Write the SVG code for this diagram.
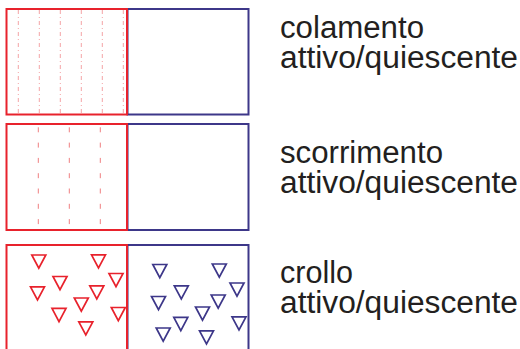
<svg xmlns="http://www.w3.org/2000/svg" width="520" height="349" viewBox="0 0 520 349">
<style>
.red{fill:none;stroke:#e8222c;stroke-width:2}
.blue{fill:none;stroke:#3d3789;stroke-width:2}
.d1{stroke:#f4a3a6;stroke-width:1;stroke-dasharray:4 3 1 3}
.d2{stroke:#ef7f80;stroke-width:1;stroke-dasharray:5 10.3}
.tr{fill:none;stroke:#e8222c;stroke-width:1.7}
.tb{fill:none;stroke:#3d3789;stroke-width:1.7}
.lbl{font-family:"Liberation Sans",Arial,sans-serif;font-size:31px;fill:#231f20}
</style>
<defs>
<path id="tri" d="M-7,0 H7 L0,13.2 Z"/>
</defs>
<rect width="520" height="349" fill="#ffffff"/>
<g id="colamento">
<g class="d1">
<line x1="18.3" y1="10" x2="18.3" y2="114"/>
<line x1="39.3" y1="10" x2="39.3" y2="114"/>
<line x1="60.3" y1="10" x2="60.3" y2="114"/>
<line x1="81.3" y1="10" x2="81.3" y2="114"/>
<line x1="102.3" y1="10" x2="102.3" y2="114"/>
<line x1="123.3" y1="10" x2="123.3" y2="114"/>
</g>
<rect class="blue" x="127.5" y="9" width="121" height="105.5"/>
<rect class="red" x="6.5" y="9" width="120.5" height="105.5"/>
<text class="lbl" x="280" y="37.7" textLength="144" lengthAdjust="spacingAndGlyphs">colamento</text>
<text class="lbl" x="280" y="68.3" textLength="238" lengthAdjust="spacingAndGlyphs">attivo/quiescente</text>
</g>
<g id="scorrimento">
<g class="d2">
<line x1="38.3" y1="127.3" x2="38.3" y2="229"/>
<line x1="69.3" y1="127.3" x2="69.3" y2="229"/>
<line x1="100.3" y1="127.3" x2="100.3" y2="229"/>
</g>
<rect class="blue" x="127.5" y="124" width="121" height="106"/>
<rect class="red" x="6.5" y="124" width="120.5" height="106"/>
<text class="lbl" x="280" y="162.7" textLength="163" lengthAdjust="spacingAndGlyphs">scorrimento</text>
<text class="lbl" x="280" y="193.3" textLength="238" lengthAdjust="spacingAndGlyphs">attivo/quiescente</text>
</g>
<g id="crollo">
<rect class="blue" x="127.5" y="245" width="121" height="106"/>
<rect class="red" x="6.5" y="245" width="120.5" height="106"/>
<g class="tr">
<use href="#tri" x="38.8" y="255"/>
<use href="#tri" x="98.5" y="254.8"/>
<use href="#tri" x="60" y="276.5"/>
<use href="#tri" x="116" y="273.5"/>
<use href="#tri" x="37.5" y="286.8"/>
<use href="#tri" x="96.8" y="285.8"/>
<use href="#tri" x="81.3" y="298"/>
<use href="#tri" x="59" y="308.4"/>
<use href="#tri" x="118.3" y="307.5"/>
<use href="#tri" x="85.8" y="321.8"/>
</g>
<g class="tb">
<use href="#tri" x="159.8" y="264.5"/>
<use href="#tri" x="219.3" y="264"/>
<use href="#tri" x="181.3" y="285.8"/>
<use href="#tri" x="237" y="283"/>
<use href="#tri" x="158.5" y="296.5"/>
<use href="#tri" x="218.2" y="295"/>
<use href="#tri" x="202.5" y="307"/>
<use href="#tri" x="180.8" y="317.4"/>
<use href="#tri" x="239" y="316.8"/>
<use href="#tri" x="163.2" y="328"/>
<use href="#tri" x="206.5" y="330.8"/>
</g>
<text class="lbl" x="280" y="282.7" textLength="73" lengthAdjust="spacingAndGlyphs">crollo</text>
<text class="lbl" x="280" y="313.3" textLength="238" lengthAdjust="spacingAndGlyphs">attivo/quiescente</text>
</g>
<g id="connectors"/>
</svg>
